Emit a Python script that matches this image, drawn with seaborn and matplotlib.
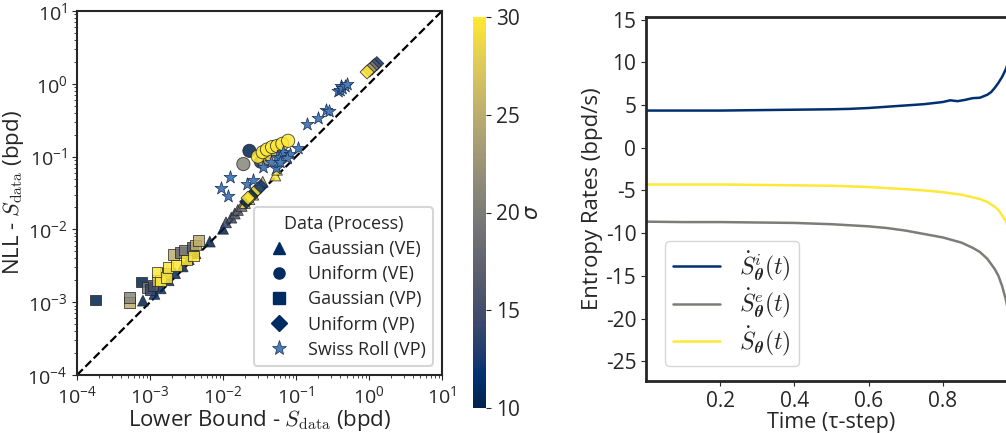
import matplotlib
matplotlib.use('Agg')
import matplotlib.pyplot as plt
from matplotlib.colors import Normalize
from matplotlib.cm import ScalarMappable
from matplotlib.font_manager import FontProperties
from matplotlib.lines import Line2D
import numpy as np
import pandas as pd
import seaborn as sns

# ---- left panel data: (lower bound, NLL, sigma) per data/process ----
gve_x = [8.0e-4, 1.15e-3, 1.4e-3, 1.8e-3, 2.2e-3, 2.8e-3, 3.4e-3, 4.2e-3, 6.6e-3, 1.0e-2,
         1.1e-2, 1.3e-2, 1.45e-2, 1.6e-2, 1.8e-2, 2.0e-2, 2.3e-2, 2.6e-2, 3.5e-2, 5.2e-2, 5.5e-2]
gve_y = [1.05e-3, 1.3e-3, 1.55e-3, 2.0e-3, 2.5e-3, 3.1e-3, 3.9e-3, 4.7e-3, 6.8e-3, 1.02e-2,
         1.25e-2, 1.45e-2, 1.65e-2, 1.85e-2, 2.1e-2, 2.3e-2, 2.6e-2, 3.0e-2, 4.5e-2, 5.5e-2, 6.6e-2]
gve_s = [10, 12, 11, 12, 11, 10, 11, 10, 10, 10,
         14, 15, 16, 17, 18, 29, 30, 28, 25, 30, 30]

uve_x = [0.023, 0.019, 0.033, 0.036, 0.042, 0.05, 0.06, 0.045, 0.03, 0.035, 0.04, 0.047, 0.055, 0.065, 0.078]
uve_y = [0.12, 0.079, 0.085, 0.09, 0.095, 0.11, 0.12, 0.105, 0.10, 0.115, 0.125, 0.135, 0.14, 0.15, 0.165]
uve_s = [10, 21, 13, 25, 24, 22, 26, 28, 30, 30, 30, 30, 30, 30, 30]

gvp_x = [1.8e-4, 5.3e-4, 5.3e-4, 7.7e-4, 9.1e-4, 1.0e-3, 1.1e-3, 1.25e-3, 1.6e-3, 2.1e-3, 2.6e-3,
         3.0e-3, 3.8e-3, 4.2e-3, 4.6e-3, 1.4e-3, 1.25e-3, 1.7e-3, 1.77e-3, 2.3e-3, 3.2e-3, 3.9e-3]
gvp_y = [1.07e-3, 1.0e-3, 1.15e-3, 1.9e-3, 1.6e-3, 1.5e-3, 1.7e-3, 2.0e-3, 2.5e-3, 4.5e-3, 4.8e-3,
         5.2e-3, 5.6e-3, 6.1e-3, 7.1e-3, 2.0e-3, 2.6e-3, 2.2e-3, 3.0e-3, 3.2e-3, 3.8e-3, 4.3e-3]
gvp_s = [10, 25, 21, 10, 20, 14, 15, 26, 22, 25, 18,
         20, 16, 25, 25, 30, 30, 30, 30, 30, 30, 30]

uvp_x = [2.1e-2, 2.4e-2, 2.7e-2, 3.0e-2, 3.3e-2, 2.2e-2, 1.28, 1.18, 1.1, 1.02, 0.94]
uvp_y = [2.4e-2, 2.8e-2, 3.2e-2, 3.6e-2, 3.9e-2, 2.7e-2, 1.9, 1.78, 1.65, 1.55, 1.45]
uvp_s = [10, 30, 10, 30, 12, 30, 12, 16, 20, 24, 30]

swr_x = [9.3e-3, 0.0125, 0.0118, 0.021, 0.026, 0.035, 0.054, 0.055, 0.067, 0.083, 0.107, 0.045,
         0.06, 0.075, 0.06, 0.14, 0.2, 0.26, 0.28, 0.38, 0.40, 0.42, 0.43, 0.47, 0.5]
swr_y = [0.037, 0.052, 0.029, 0.042, 0.048, 0.072, 0.069, 0.098, 0.115, 0.11, 0.13, 0.085,
         0.1, 0.095, 0.085, 0.28, 0.34, 0.43, 0.42, 0.8, 0.82, 0.92, 0.87, 0.93, 0.98]

# ---- right panel data: entropy rates over time ----
t_si = [0.0, 0.1, 0.2, 0.3, 0.4, 0.5, 0.55, 0.6, 0.65, 0.7, 0.75, 0.8, 0.82, 0.84, 0.86,
        0.88, 0.9, 0.92, 0.93, 0.94, 0.95, 0.96, 0.97, 0.98, 0.99, 1.0]
s_i = [4.35, 4.35, 4.35, 4.4, 4.45, 4.5, 4.55, 4.65, 4.8, 4.95, 5.1, 5.35, 5.55, 5.45, 5.6,
       5.8, 5.85, 6.2, 6.5, 7.0, 7.6, 8.3, 9.2, 10.5, 12.5, 15.0]
t_se = [0.0, 0.1, 0.2, 0.3, 0.4, 0.5, 0.6, 0.65, 0.7, 0.75, 0.8, 0.85, 0.88, 0.9, 0.92,
        0.94, 0.95, 0.96, 0.97, 0.98, 0.99, 1.0]
s_e = [-8.65, -8.7, -8.7, -8.75, -8.8, -8.95, -9.2, -9.4, -9.7, -10.1, -10.5, -11.1, -11.7, -12.2, -13.0,
       -14.2, -15.0, -16.2, -17.8, -20.0, -23.0, -27.0]
t_st = [0.0, 0.1, 0.2, 0.3, 0.4, 0.5, 0.6, 0.7, 0.75, 0.8, 0.85, 0.9, 0.92, 0.94, 0.95,
        0.96, 0.97, 0.98, 0.99, 1.0]
s_t = [-4.3, -4.3, -4.3, -4.35, -4.4, -4.45, -4.6, -4.85, -5.0, -5.2, -5.5, -6.0, -6.35, -6.9, -7.3,
       -7.9, -8.6, -9.8, -11.5, -14.0]

y_ticks = [15, 10, 5, 0, -5, -10, -15, -20, -25]
x_ticks = [0.2, 0.4, 0.6, 0.8]
cbar_ticks = [10, 15, 20, 25, 30]

sns.set_style('ticks')
plt.rcParams['font.family'] = ['Open Sans', 'DejaVu Sans']
plt.rcParams['axes.linewidth'] = 1.5

cmap = plt.get_cmap('cividis')
norm = Normalize(10, 30)
W, H = 1006, 433
fig = plt.figure(figsize=(W / 100, H / 100), dpi=100)

ax1 = fig.add_axes([77 / W, 58 / H, 365 / W, 364 / H])
cax = fig.add_axes([473 / W, 25 / H, 13 / W, 391 / H])
ax2 = fig.add_axes([646 / W, 52 / H, 371 / W, 364 / H])

# left panel
lims = [1e-4, 10]
ax1.plot(lims, lims, 'k--', lw=1.6, zorder=1)

groups = [
    ('Gaussian (VE)', '^', 60, gve_x, gve_y, gve_s),
    ('Gaussian (VP)', 's', 60, gvp_x, gvp_y, gvp_s),
    ('Uniform (VP)', 'D', 50, uvp_x, uvp_y, uvp_s),
    ('Uniform (VE)', 'o', 90, uve_x, uve_y, uve_s),
]
for name, mk, size, xs, ys, ss in groups:
    df = pd.DataFrame({'x': xs, 'y': ys, 'sigma': ss})
    sns.scatterplot(data=df, x='x', y='y', hue='sigma', palette='cividis', hue_norm=(10, 30),
                    marker=mk, s=size, edgecolor='#222222', linewidth=0.6, alpha=0.85,
                    legend=False, ax=ax1, zorder=3)

star_col = '#4b7fb9'
sns.scatterplot(x=swr_x, y=swr_y, marker='*', s=95, color=star_col, edgecolor='#1a2c55',
                linewidth=0.5, legend=False, ax=ax1, zorder=4)

ax1.set_xscale('log')
ax1.set_yscale('log')
ax1.set_xlim(lims)
ax1.set_ylim(lims)
for s in ax1.spines.values():
    s.set_visible(True)
ax1.tick_params(labelsize=14)
ax1.set_xlabel(r'Lower Bound - $S_{\rm data}$ (bpd)', fontsize=16, math_fontfamily='cm', labelpad=1)
ax1.set_ylabel(r'NLL - $S_{\rm data}$ (bpd)', fontsize=16, math_fontfamily='cm', labelpad=1)

navy = cmap(0.05)
handles = [
    Line2D([], [], ls='', marker='^', color=navy, markersize=8),
    Line2D([], [], ls='', marker='o', color=navy, markersize=8),
    Line2D([], [], ls='', marker='s', color=navy, markersize=8),
    Line2D([], [], ls='', marker='D', color=navy, markersize=8),
    Line2D([], [], ls='', marker='*', color=star_col, markeredgecolor='#1a2c55',
           markeredgewidth=0.5, markersize=11),
]
labels = ['Gaussian (VE)', 'Uniform (VE)', 'Gaussian (VP)', 'Uniform (VP)', 'Swiss Roll (VP)']
leg1 = ax1.legend(handles, labels, title='Data (Process)', loc='lower right', fontsize=13,
                  title_fontsize=13, frameon=True, borderaxespad=0.5, handletextpad=0.6,
                  labelspacing=0.4)
leg1.get_frame().set_linewidth(1.5)

# colorbar
cb = fig.colorbar(ScalarMappable(norm=norm, cmap=cmap), cax=cax, ticks=cbar_ticks)
cb.outline.set_visible(False)
cb.ax.tick_params(labelsize=15)
cb.set_label(r'$\sigma$', fontsize=15, labelpad=2)

# right panel
sns.lineplot(x=t_si, y=s_i, color=cmap(0.08), lw=1.8, ax=ax2,
             label=r'$\dot{S}^{i}_{\boldsymbol{\theta}}(t)$')
sns.lineplot(x=t_se, y=s_e, color=cmap(0.5), lw=1.8, ax=ax2,
             label=r'$\dot{S}^{e}_{\boldsymbol{\theta}}(t)$')
sns.lineplot(x=t_st, y=s_t, color=cmap(1.0), lw=1.8, ax=ax2,
             label=r'$\dot{S}_{\boldsymbol{\theta}}(t)$')
ax2.set_xlim(0, 1.0)
ax2.set_ylim(-27.3, 15.3)
ax2.set_yticks(y_ticks)
ax2.set_yticklabels([str(v) for v in y_ticks])
ax2.set_xticks(x_ticks)
ax2.set_xticklabels([str(v) for v in x_ticks])
ax2.tick_params(labelsize=15)
for s in ax2.spines.values():
    s.set_linewidth(2)
ax2.set_xlabel('Time (τ-step)', fontsize=15.5, labelpad=0)
ax2.set_ylabel('Entropy Rates (bpd/s)', fontsize=16, labelpad=2)
leg2 = ax2.legend(loc='lower left', bbox_to_anchor=(0.051, 0.041), borderaxespad=0,
                  prop=FontProperties(size=17, math_fontfamily='cm'), labelspacing=0.15,
                  borderpad=0.35)

fig.savefig('out.png', dpi=100)
